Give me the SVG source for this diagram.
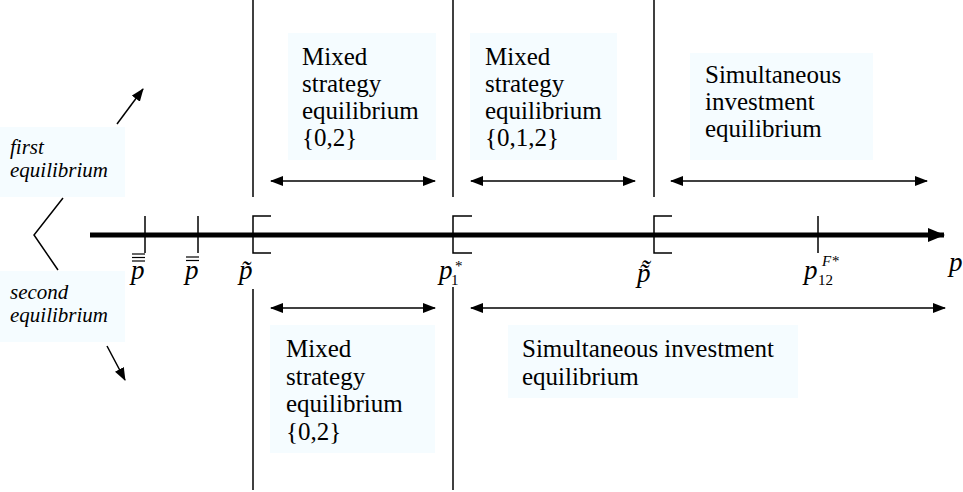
<svg xmlns="http://www.w3.org/2000/svg" width="963" height="492" viewBox="0 0 963 492">
<style>
.box{fill:#F5FCFF;stroke:none}
.t{font-family:'Liberation Serif','DejaVu Serif',serif;font-size:25px;fill:#000}
.it{font-family:'Liberation Serif','DejaVu Serif',serif;font-size:21px;font-style:italic;fill:#000}
.m{font-family:'Liberation Serif','DejaVu Serif',serif;font-size:27px;font-style:italic;fill:#000}
.s{font-family:'Liberation Serif','DejaVu Serif',serif;font-size:15px;fill:#000}
.ln{stroke:#000;stroke-width:1.5;fill:none}
.thin{stroke:#000;stroke-width:1.2;fill:none}
.da{stroke:#000;stroke-width:1.5;fill:none;marker-start:url(#ah);marker-end:url(#ah)}
.sa{stroke:#000;stroke-width:1.5;fill:none;marker-end:url(#ah)}
</style>
<defs>
<marker id="ah" markerUnits="userSpaceOnUse" markerWidth="14" markerHeight="10" refX="12" refY="5" orient="auto-start-reverse">
<path d="M0,0 L13,5 L0,10 Z" fill="#000"/>
</marker>
<marker id="axh" markerUnits="userSpaceOnUse" markerWidth="18" markerHeight="14" refX="16" refY="7" orient="auto">
<path d="M0,0 L17,7 L0,14 Z" fill="#000"/>
</marker>
</defs>
<rect width="963" height="492" fill="#fff"/>

<g id="boxes-top">
<g id="top-mixed-02">
<rect class="box" x="288" y="33" width="148" height="127"/>
<text class="t" x="302" y="65">Mixed</text>
<text class="t" x="302" y="92">strategy</text>
<text class="t" x="302" y="119">equilibrium</text>
<text class="t" x="302" y="146">{0,2}</text>
</g>
<g id="top-mixed-012">
<rect class="box" x="470" y="33" width="147" height="127"/>
<text class="t" x="485" y="65">Mixed</text>
<text class="t" x="485" y="92">strategy</text>
<text class="t" x="485" y="119">equilibrium</text>
<text class="t" x="485" y="146">{0,1,2}</text>
</g>
<g id="top-simultaneous">
<rect class="box" x="690" y="53" width="183" height="107"/>
<text class="t" x="705" y="83">Simultaneous</text>
<text class="t" x="705" y="110">investment</text>
<text class="t" x="705" y="137">equilibrium</text>
</g>
</g>

<g id="boxes-bottom">
<g id="bottom-mixed-02">
<rect class="box" x="270" y="325" width="165" height="128"/>
<text class="t" x="286" y="357">Mixed</text>
<text class="t" x="286" y="385">strategy</text>
<text class="t" x="286" y="412">equilibrium</text>
<text class="t" x="286" y="440">{0,2}</text>
</g>
<g id="bottom-simultaneous">
<rect class="box" x="508" y="325" width="290" height="73"/>
<text class="t" x="522" y="357">Simultaneous investment</text>
<text class="t" x="522" y="385">equilibrium</text>
</g>
</g>

<g id="left-labels">
<g id="first-eq">
<rect class="box" x="0" y="127" width="125" height="70"/>
<text class="it" x="10" y="154">first</text>
<text class="it" x="10" y="177">equilibrium</text>
</g>
<g id="second-eq">
<rect class="box" x="0" y="271" width="125" height="71"/>
<text class="it" x="10" y="299">second</text>
<text class="it" x="10" y="322">equilibrium</text>
</g>
</g>

<g id="connectors">
<line class="ln" x1="253" y1="0" x2="253" y2="197"/>
<line class="ln" x1="453" y1="0" x2="453" y2="197"/>
<line class="ln" x1="654" y1="0" x2="654" y2="197"/>
<line class="ln" x1="253" y1="289" x2="253" y2="490"/>
<line class="ln" x1="453" y1="287" x2="453" y2="490"/>
<line x1="90" y1="235" x2="944" y2="235" stroke="#000" stroke-width="5" marker-end="url(#axh)"/>
<line class="ln" x1="145" y1="216" x2="145" y2="253"/>
<line class="ln" x1="198" y1="216" x2="198" y2="253"/>
<line class="ln" x1="818" y1="216" x2="818" y2="253"/>
<path class="ln" d="M271,216 H253 V253 H271"/>
<path class="ln" d="M472,216 H453 V253 H472"/>
<path class="ln" d="M672,216 H654 V253 H672"/>
<line class="da" x1="271" y1="181" x2="435" y2="181"/>
<line class="da" x1="471" y1="181" x2="635" y2="181"/>
<line class="da" x1="671" y1="181" x2="927" y2="181"/>
<line class="da" x1="271" y1="308" x2="435" y2="308"/>
<line class="da" x1="471" y1="308" x2="945" y2="308"/>
<path class="ln" d="M63,198 L34,235 L58,270"/>
<line class="sa" x1="117" y1="124" x2="143" y2="89"/>
<line class="sa" x1="107" y1="346" x2="125" y2="380"/>
</g>

<g id="axis-labels">
<g id="lbl-p3bar">
<text class="m" x="131" y="279">p</text>
<line class="thin" x1="132" y1="254" x2="145" y2="254"/>
<line class="thin" x1="132" y1="257.5" x2="145" y2="257.5"/>
<line class="thin" x1="132" y1="261" x2="145" y2="261"/>
</g>
<g id="lbl-p2bar">
<text class="m" x="185" y="279">p</text>
<line class="thin" x1="186" y1="257" x2="199" y2="257"/>
<line class="thin" x1="186" y1="260.5" x2="199" y2="260.5"/>
</g>
<g id="lbl-ptilde">
<text class="m" x="239" y="279">p&#x303;</text>
</g>
<g id="lbl-p1star">
<text class="m" x="439" y="279">p</text>
<text class="s" x="451" y="285">1</text>
<text class="s" x="455" y="271" font-size="11">*</text>
</g>
<g id="lbl-pdtilde">
<text class="m" x="637" y="282">p&#x303;<tspan dx="-10" dy="-3">&#x2DC;</tspan></text>
</g>
<g id="lbl-p12">
<text class="m" x="804" y="279">p</text>
<text class="s" x="818" y="285">12</text>
<text class="s" x="822" y="266" font-size="12" font-style="italic">F*</text>
</g>
<g id="lbl-p">
<text class="m" x="949" y="271">p</text>
</g>
</g>
</svg>
